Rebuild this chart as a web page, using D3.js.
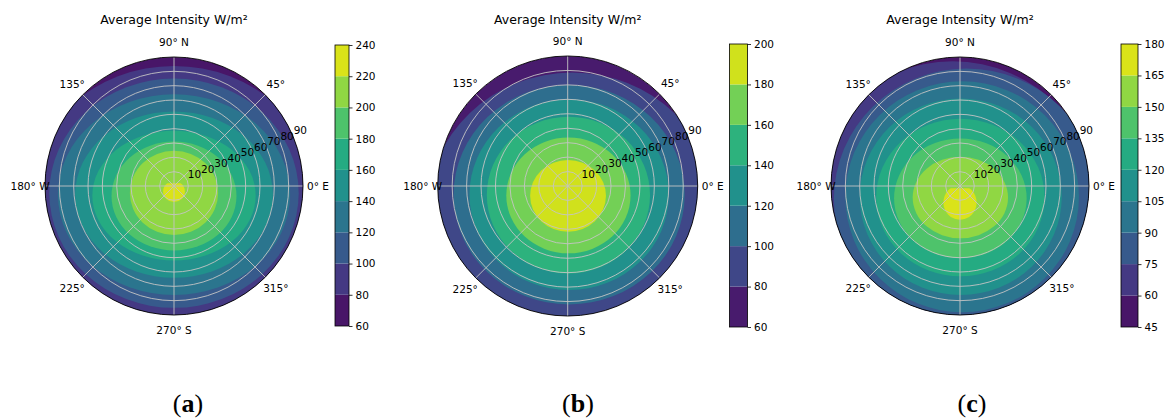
<!DOCTYPE html>
<html>
<head>
<meta charset="utf-8">
<script src="https://cdn.jsdelivr.net/npm/d3@7"></script>
<style>
  body { margin: 0; background: #fff; }
  svg { display: block; }
  text { font-family: "DejaVu Sans", sans-serif; }
</style>
</head>
<body>
<svg id="fig" width="1169" height="420"></svg>
<script>
// ---- data -------------------------------------------------------------
const title = "Average Intensity W/m²";
const panelLetters = ["a", "b", "c"];

// contour levels of the three panels (also the colour-bar ticks)
const levelsA = [60, 80, 100, 120, 140, 160, 180, 200, 220, 240];
const levelsB = [60, 80, 100, 120, 140, 160, 180, 200];
const levelsC = [45, 60, 75, 90, 105, 120, 135, 150, 165, 180];

// each contour: [level, zenith angle where it crosses the N, S, W and E axes]
const contoursA = [
  [80, 83.7, 104, 102, 102],
  [100, 75, 85, 87, 87],
  [120, 64, 76, 81, 81],
  [140, 52, 64, 69, 69],
  [160, 38.5, 52, 57, 57],
  [180, 31, 45, 43.6, 43.6],
  [200, 24.6, 34.2, 30.8, 30.8],
  [220, 3.5, 11.2, 7.6, 7.6]
];
const contoursB = [
  [80, 78.5, 112, 97, 103],
  [100, 70, 82, 79, 81],
  [120, 60, 72, 68, 70],
  [140, 48, 60.5, 56, 57],
  [160, 33.5, 46.6, 42.5, 43.5],
  [180, 18, 31.6, 26, 26.5]
];
const contoursC = [
  [60, 87, 130, 110, 100],
  [75, 82, 100, 88, 97],
  [90, 73, 88, 80, 83],
  [105, 61, 76, 70, 71],
  [120, 47, 63, 58.5, 59],
  [135, 33.2, 50.4, 46, 46.5],
  [150, 20.4, 36.5, 33, 33.5],
  [165, 0.5, 23.5, 11.6, 11.6]
];
// flat northern edge of the innermost contour (degrees north of zenith)
const capA = 2;
const capB = null;
const capC = -1.5;

const angleTicks = [0, 45, 90, 135, 180, 225, 270, 315];
const angleLabels = ["0° E", "45°", "90° N", "135°", "180° W", "225°", "270° S", "315°"];
const radialTicks = [10, 20, 30, 40, 50, 60, 70, 80, 90];

// ---- layout ----------------------------------------------------------
const panels = [
  { levels: levelsA, contours: contoursA, cap: capA, cx: 174, cy: 186, R: 129,
    bar: { x: 335, w: 14, y0: 45, y1: 326 }, letterX: 188 },
  { levels: levelsB, contours: contoursB, cap: capB, cx: 567.7, cy: 186, R: 130,
    bar: { x: 729.5, w: 18, y0: 44, y1: 327 }, letterX: 578 },
  { levels: levelsC, contours: contoursC, cap: capC, cx: 960, cy: 186, R: 129,
    bar: { x: 1121, w: 17, y0: 44, y1: 327 }, letterX: 972 }
];

const svg = d3.select("#fig");
const defs = svg.append("defs");
const gridColor = "#c4c4c4";

panels.forEach((p, k) => {
  const nb = p.levels.length - 1;
  const color = i => d3.interpolateViridis((i + 0.5) / nb);
  const r = d3.scaleLinear().domain([0, 90]).range([0, p.R]);
  const g = svg.append("g").attr("transform", `translate(${p.cx},${p.cy})`);

  // disc clip
  const clipId = "disc" + k;
  defs.append("clipPath").attr("id", clipId)
    .append("circle").attr("r", p.R);
  const field = g.append("g").attr("clip-path", `url(#${clipId})`);

  // filled contour bands, lowest band first
  field.append("circle").attr("r", p.R).attr("fill", color(0));
  const last = p.contours.length - 1;
  p.contours.forEach(([lv, n, s, w, e], j) => {
    const band = p.levels.indexOf(lv);
    const el = field.append("ellipse")
      .attr("cx", r((e - w) / 2))
      .attr("cy", r((s - n) / 2))
      .attr("rx", r((e + w) / 2))
      .attr("ry", r((n + s) / 2))
      .attr("fill", color(band));
    if (j === last && p.cap !== null) {
      const capId = "cap" + k;
      defs.append("clipPath").attr("id", capId)
        .append("rect")
        .attr("x", -p.R).attr("width", 2 * p.R)
        .attr("y", -r(p.cap)).attr("height", p.R + r(p.cap));
      el.attr("clip-path", `url(#${capId})`);
    }
  });

  // grid
  const grid = g.append("g").attr("fill", "none").attr("stroke", gridColor).attr("stroke-width", 0.9);
  grid.selectAll("circle").data(radialTicks.filter(v => v < 90)).join("circle")
    .attr("r", d => r(d));
  grid.selectAll("line").data(angleTicks).join("line")
    .attr("x1", 0).attr("y1", 0)
    .attr("x2", d => r(90) * Math.cos(d * Math.PI / 180))
    .attr("y2", d => -r(90) * Math.sin(d * Math.PI / 180));

  // outline
  g.append("circle").attr("r", p.R).attr("fill", "none").attr("stroke", "#000").attr("stroke-width", 0.9);

  // angular labels
  g.append("g").selectAll("text").data(angleTicks).join("text")
    .attr("x", d => (p.R + 15) * Math.cos(d * Math.PI / 180))
    .attr("y", d => -(p.R + 15) * Math.sin(d * Math.PI / 180))
    .attr("text-anchor", "middle").attr("dominant-baseline", "central")
    .attr("font-size", 10.5).attr("fill", "#000")
    .text((d, i) => angleLabels[i]);

  // radial labels along 22.5°
  const a = 22.5 * Math.PI / 180;
  g.append("g").selectAll("text").data(radialTicks).join("text")
    .attr("x", d => r(d) * Math.cos(a) + 0.5)
    .attr("y", d => -r(d) * Math.sin(a) - 2.2)
    .attr("text-anchor", "start")
    .attr("font-size", 10.5).attr("fill", "#000")
    .text(d => d);

  // title
  svg.append("text").attr("x", p.cx).attr("y", 24)
    .attr("text-anchor", "middle").attr("font-size", 12.5).attr("fill", "#000")
    .text(title);

  // colour bar
  const b = p.bar;
  const y = d3.scaleLinear().domain([p.levels[0], p.levels[nb]]).range([b.y1, b.y0]);
  const cb = svg.append("g");
  cb.selectAll("rect.band").data(d3.range(nb)).join("rect")
    .attr("class", "band")
    .attr("x", b.x).attr("width", b.w)
    .attr("y", i => y(p.levels[i + 1]))
    .attr("height", i => y(p.levels[i]) - y(p.levels[i + 1]))
    .attr("fill", i => color(i));
  cb.append("rect").attr("x", b.x).attr("y", b.y0).attr("width", b.w).attr("height", b.y1 - b.y0)
    .attr("fill", "none").attr("stroke", "#000").attr("stroke-width", 0.8);
  const axis = d3.axisRight(y).tickValues(p.levels).tickSize(3.5).tickPadding(3).tickFormat(d3.format("d"));
  const ax = cb.append("g").attr("transform", `translate(${b.x + b.w},0)`).call(axis);
  ax.select(".domain").remove();
  ax.selectAll("text").attr("font-size", 10.5).attr("fill", "#000").attr("font-family", "DejaVu Sans, sans-serif");
  ax.selectAll("line").attr("stroke", "#000").attr("stroke-width", 0.8);

  // panel letter
  const lt = svg.append("text").attr("x", p.letterX).attr("y", 412)
    .attr("text-anchor", "middle").attr("font-size", 26)
    .style("font-family", "'Liberation Serif', 'DejaVu Serif', serif");
  lt.append("tspan").text("(");
  lt.append("tspan").attr("font-weight", "bold").text(panelLetters[k]);
  lt.append("tspan").text(")");
});
</script>
</body>
</html>
